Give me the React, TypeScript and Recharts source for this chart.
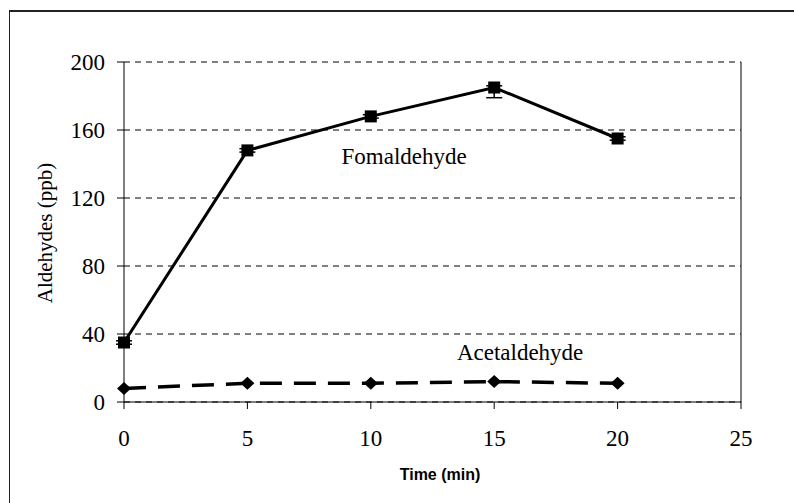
import React from 'react';
import {
  LineChart,
  Line,
  XAxis,
  YAxis,
  CartesianGrid,
  ErrorBar,
  ReferenceLine,
  ReferenceDot,
} from 'recharts';

const times = [0, 5, 10, 15, 20];
const formaldehyde = [35, 148, 168, 185, 155];
const formaldehydeErrLow = [1, 1, 1, 6, 1];
const formaldehydeErrHigh = [1, 1, 1, 1, 1];
const acetaldehyde = [8, 11, 11, 12, 11];

const xTicks = [0, 5, 10, 15, 20, 25];
const yTicks = [0, 40, 80, 120, 160, 200];

const serif = '"Liberation Serif", "Times New Roman", serif';
const sans = '"Liberation Sans", Arial, sans-serif';

const SquareDot = (props: any) => {
  const { cx, cy } = props;
  if (cx == null || cy == null) return <g />;
  return <rect x={cx - 6} y={cy - 6} width={12} height={12} fill="#000" />;
};

const DiamondDot = (props: any) => {
  const { cx, cy } = props;
  if (cx == null || cy == null) return <g />;
  return (
    <path
      d={`M${cx},${cy - 6.5} L${cx + 7},${cy} L${cx},${cy + 6.5} L${cx - 7},${cy} Z`}
      fill="#000"
    />
  );
};

export default function App() {
  const data = times.map((t, i) => ({
    time: t,
    form: formaldehyde[i],
    formErr: [formaldehydeErrLow[i], formaldehydeErrHigh[i]],
    acet: acetaldehyde[i],
  }));

  const tickStyle = { fill: '#000', fontSize: 23, fontFamily: serif };

  return (
    <div style={{ position: 'absolute', left: 0, top: 0, width: 794, height: 503, background: '#fff' }}>
      <div
        style={{
          position: 'absolute',
          left: 9,
          top: 10,
          width: 785,
          height: 493,
          borderTop: '2px solid #222',
          borderLeft: '1.5px solid #222',
          boxSizing: 'border-box',
        }}
      />
      <LineChart
        width={794}
        height={503}
        data={data}
        margin={{ top: 62, right: 53, bottom: 41, left: 0 }}
        style={{ position: 'absolute', left: 0, top: 0 }}
      >
        <CartesianGrid vertical={false} stroke="#000" strokeDasharray="6 5" />
        <XAxis
          dataKey="time"
          type="number"
          domain={[0, 25]}
          ticks={xTicks}
          height={60}
          tickSize={7}
          tickMargin={21}
          tick={tickStyle}
          axisLine={{ stroke: '#000' }}
          tickLine={{ stroke: '#000' }}
        />
        <YAxis
          type="number"
          domain={[0, 200]}
          ticks={yTicks}
          width={124}
          tickSize={7}
          tickMargin={12}
          tick={tickStyle}
          axisLine={{ stroke: '#000' }}
          tickLine={{ stroke: '#000' }}
        />
        <ReferenceLine x={25} stroke="#000" strokeWidth={1} />
        <Line
          dataKey="acet"
          stroke="#000"
          strokeWidth={3.5}
          strokeDasharray="22 12"
          dot={<DiamondDot />}
          activeDot={false}
          isAnimationActive={false}
        />
        <Line
          dataKey="form"
          stroke="#000"
          strokeWidth={3}
          dot={<SquareDot />}
          activeDot={false}
          isAnimationActive={false}
        >
          <ErrorBar dataKey="formErr" direction="y" width={8} stroke="#000" strokeWidth={1.5} />
        </Line>
        <ReferenceDot
          x={11.35}
          y={145}
          r={0}
          fill="none"
          stroke="none"
          label={{ value: 'Fomaldehyde', position: 'center', fill: '#000', fontSize: 23, fontFamily: serif }}
        />
        <ReferenceDot
          x={16.05}
          y={29.4}
          r={0}
          fill="none"
          stroke="none"
          label={{ value: 'Acetaldehyde', position: 'center', fill: '#000', fontSize: 23, fontFamily: serif }}
        />
      </LineChart>
      <div
        style={{
          position: 'absolute',
          left: 45,
          top: 233,
          transform: 'translate(-50%, -50%) rotate(-90deg)',
          whiteSpace: 'nowrap',
          fontFamily: serif,
          fontSize: 21,
          color: '#000',
        }}
      >
        Aldehydes (ppb)
      </div>
      <div
        style={{
          position: 'absolute',
          left: 440,
          top: 475,
          transform: 'translate(-50%, -50%)',
          whiteSpace: 'nowrap',
          fontFamily: sans,
          fontWeight: 'bold',
          fontSize: 16,
          color: '#000',
        }}
      >
        Time (min)
      </div>
    </div>
  );
}
